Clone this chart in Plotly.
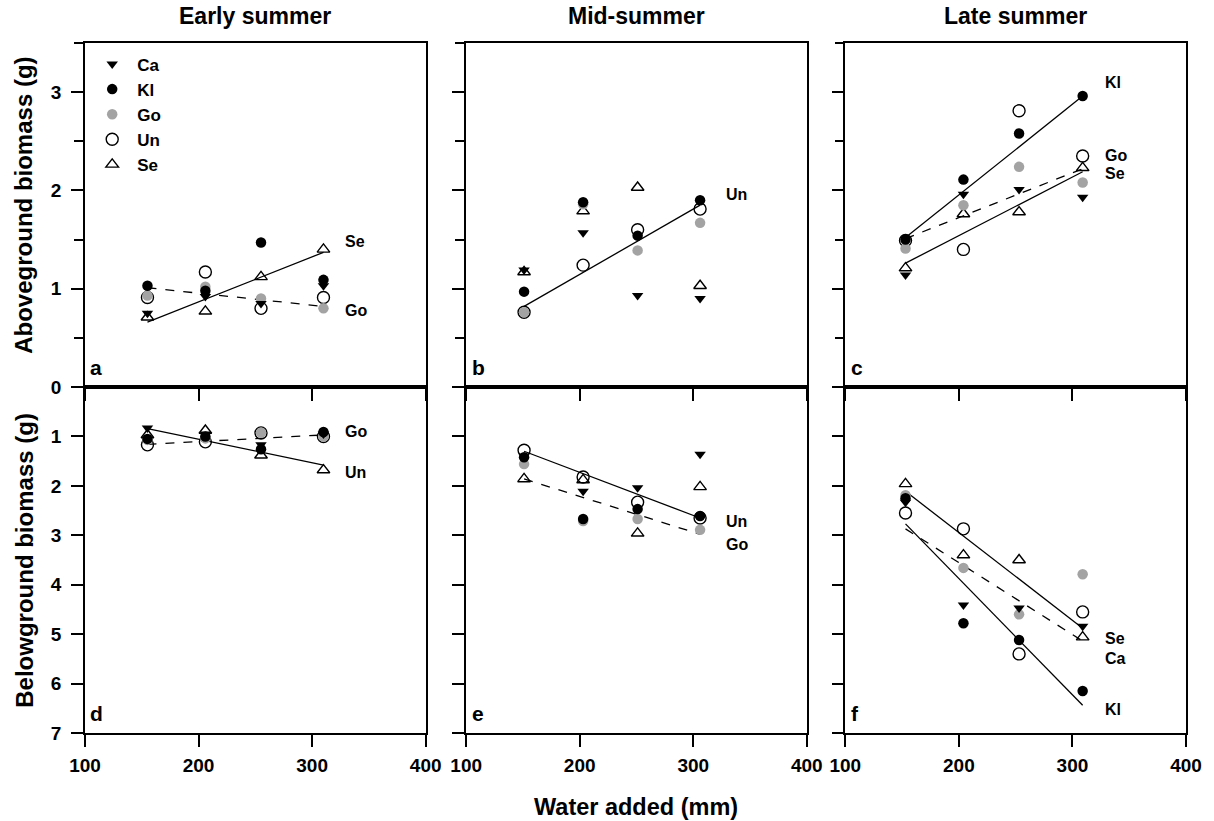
import plotly.graph_objects as go

FONT = "Liberation Sans"

# ---------------- data ----------------
series = ["Ca", "Kl", "Go", "Un", "Se"]
season_titles = ["Early summer", "Mid-summer", "Late summer"]
panel_letters = ["a", "b", "c", "d", "e", "f"]

# water added (mm) for each season
x_early = [155, 206, 255, 310]
x_mid = [151, 203, 251, 306]
x_late = [153, 204, 253, 309]

# aboveground biomass (g)
above_early = {"Ca": [0.75, 0.92, 0.85, 1.03], "Kl": [1.03, 0.98, 1.47, 1.09],
               "Go": [0.93, 1.02, 0.90, 0.80], "Un": [0.91, 1.17, 0.80, 0.91],
               "Se": [0.71, 0.77, 1.12, 1.40]}
above_mid = {"Ca": [1.19, 1.57, 0.93, 0.90], "Kl": [0.97, 1.88, 1.54, 1.90],
             "Go": [0.76, 1.86, 1.39, 1.67], "Un": [0.76, 1.24, 1.60, 1.81],
             "Se": [1.17, 1.79, 2.03, 1.03]}
above_late = {"Ca": [1.14, 1.96, 2.01, 1.93], "Kl": [1.50, 2.11, 2.58, 2.96],
              "Go": [1.41, 1.85, 2.24, 2.08], "Un": [1.49, 1.40, 2.81, 2.35],
              "Se": [1.21, 1.76, 1.78, 2.23]}

# belowground biomass (g)
below_early = {"Ca": [0.83, 0.95, 1.17, 0.95], "Kl": [1.05, 1.00, 1.26, 0.91],
               "Go": [1.07, 1.04, 0.92, 1.00], "Un": [1.17, 1.11, 0.93, 1.00],
               "Se": [0.97, 0.88, 1.38, 1.68]}
below_mid = {"Ca": [1.40, 2.11, 2.04, 1.36], "Kl": [1.42, 2.67, 2.47, 2.61],
             "Go": [1.56, 2.71, 2.67, 2.89], "Un": [1.28, 1.82, 2.33, 2.65],
             "Se": [1.86, 1.88, 2.96, 2.02]}
below_late = {"Ca": [2.33, 4.41, 4.47, 4.84], "Kl": [2.25, 4.78, 5.12, 6.15],
              "Go": [2.19, 3.66, 4.60, 3.79], "Un": [2.55, 2.87, 5.40, 4.55],
              "Se": [1.96, 3.40, 3.50, 5.06]}

# regression lines: (label, fitted value at first x, fitted value at last x)
fits_a = [("Se", 0.66, 1.37), ("Go", 1.01, 0.82)]
fits_b = [("Un", 0.82, 1.85)]
fits_c = [("Kl", 1.52, 2.96), ("Go", 1.51, 2.22), ("Se", 1.26, 2.19)]
fits_d = [("Un", 0.84, 1.58), ("Go", 1.16, 0.97)]
fits_e = [("Un", 1.30, 2.65), ("Go", 1.86, 2.98)]
fits_f = [("Se", 2.11, 4.88), ("Kl", 2.77, 6.44), ("Ca", 2.87, 5.14)]

x_ticks = [100, 200, 300, 400]
above_ticks = [0, 1, 2, 3]
below_ticks = [1, 2, 3, 4, 5, 6, 7]

# ---------------- styles / layout helpers ----------------
GRAY = "#a3a3a3"
styles = {
    "Ca": dict(symbol="triangle-down", color="black", size=10, line=dict(width=0)),
    "Kl": dict(symbol="circle", color="black", size=10.5, line=dict(width=0)),
    "Go": dict(symbol="circle", color=GRAY, size=10.5, line=dict(width=0)),
    "Un": dict(symbol="circle-open", color="black", size=12, line=dict(width=1.4)),
    "Se": dict(symbol="triangle-up-open", color="black", size=11, line=dict(width=1.4)),
}
dash_for = {"Go": "dash", "Ca": "dash"}
draw_order = ["Se", "Un", "Go", "Kl", "Ca"]
legend_rank = {s: i + 1 for i, s in enumerate(series)}

panels = [
    (x_early, above_early, fits_a),
    (x_mid, above_mid, fits_b),
    (x_late, above_late, fits_c),
    (x_early, below_early, fits_d),
    (x_mid, below_mid, fits_e),
    (x_late, below_late, fits_f),
]

# label y positions (data units) for the regression labels, keyed by line name
label_y = [
    {"Se": 1.48, "Go": 0.78},
    {"Un": 1.96},
    {"Kl": 3.10, "Go": 2.36, "Se": 2.17},
    {"Go": 0.91, "Un": 1.72},
    {"Un": 2.73, "Go": 3.18},
    {"Se": 5.08, "Ca": 5.49, "Kl": 6.52},
]

# figure geometry (px)
W, H = 1214, 821
ML, MR, MT, MB = 85, 14, 43, 88
PW = W - ML - MR
PH = H - MT - MB
col_px = [(85, 430), (471, 816), (855, 1200)]
row_split = (733 - 387) / PH
x_domains = [[(a - ML) / PW, (b - ML) / PW] for a, b in col_px]
y_domains = [[row_split, 1.0], [0.0, row_split]]

fig = go.Figure()

for p, (xs, vals, fits) in enumerate(panels):
    ax = "" if p == 0 else str(p + 1)
    xr, yr = "x" + ax, "y" + ax
    for (name, y0, y1) in fits:
        fig.add_trace(go.Scatter(
            x=[xs[0], xs[-1]], y=[y0, y1], mode="lines",
            line=dict(color="black", width=1.3, dash=dash_for.get(name, "solid")),
            xaxis=xr, yaxis=yr, showlegend=False, hoverinfo="skip"))
    for s in draw_order:
        st = styles[s]
        fig.add_trace(go.Scatter(
            x=xs, y=vals[s], mode="markers", name=s,
            marker=dict(symbol=st["symbol"], color=st["color"], size=st["size"],
                        line=st["line"]),
            xaxis=xr, yaxis=yr, showlegend=(p == 0),
            legendgroup=s, legendrank=legend_rank[s]))

TICKFONT = dict(family=FONT, size=19, color="black", weight="bold")
axis_common = dict(showline=True, linecolor="black", linewidth=1.5, mirror=True,
                   ticks="outside", ticklen=12, tickwidth=1.5, tickcolor="black",
                   showgrid=False, zeroline=False, tickfont=TICKFONT)

layout = dict(
    width=W, height=H,
    margin=dict(l=ML, r=MR, t=MT, b=MB),
    plot_bgcolor="white", paper_bgcolor="white",
    font=dict(family=FONT, color="black"),
    showlegend=True,
    legend=dict(x=0.002, y=0.995, xanchor="left", yanchor="top",
                bgcolor="rgba(0,0,0,0)", traceorder="grouped", tracegroupgap=0,
                itemwidth=40,
                font=dict(family=FONT, size=17, color="black", weight="bold")),
)

for p in range(6):
    ax = "" if p == 0 else str(p + 1)
    row, col = divmod(p, 3)
    xa = dict(axis_common, domain=x_domains[col], range=[100, 400],
              tickvals=x_ticks, showticklabels=(row == 1),
              anchor="y" + ax, ticklabelstandoff=2)
    if row == 0:
        ya = dict(axis_common, domain=y_domains[row], range=[0, 3.5],
                  tickvals=above_ticks,
                  minor=dict(tick0=0, dtick=0.5, ticks="outside", ticklen=9,
                             tickwidth=1.5, tickcolor="black", showgrid=False))
    else:
        ya = dict(axis_common, domain=y_domains[row], range=[7, 0],
                  tickvals=below_ticks)
    ya.update(anchor="x" + ax, showticklabels=(col == 0), ticklabelstandoff=6)
    layout["xaxis" + ax] = xa
    layout["yaxis" + ax] = ya

annotations = []
for c, t in enumerate(season_titles):
    annotations.append(dict(text=t, xref="paper", yref="paper",
                            x=sum(x_domains[c]) / 2, y=(733 - 16) / PH,
                            xanchor="center", yanchor="middle", showarrow=False,
                            font=dict(family=FONT, size=23, color="black", weight="bold")))
for p, letter in enumerate(panel_letters):
    ax = "" if p == 0 else str(p + 1)
    row = p // 3
    annotations.append(dict(text=letter, xref="x" + ax, yref="y" + ax,
                            x=103, y=0.2 if row == 0 else 6.6,
                            xanchor="left", yanchor="middle", showarrow=False,
                            font=dict(family=FONT, size=21, color="black", weight="bold")))
for p, (xs, vals, fits) in enumerate(panels):
    ax = "" if p == 0 else str(p + 1)
    for (name, y0, y1) in fits:
        annotations.append(dict(text=name, xref="x" + ax, yref="y" + ax,
                                x=327, y=label_y[p][name], xanchor="left", yanchor="middle",
                                showarrow=False,
                                font=dict(family=FONT, size=16, color="black", weight="bold")))
annotations.append(dict(text="Aboveground biomass (g)", xref="paper", yref="paper",
                        x=(23 - ML) / PW, y=(733 - 205) / PH, textangle=-90,
                        xanchor="center", yanchor="middle", showarrow=False,
                        font=dict(family=FONT, size=24, color="black", weight="bold")))
annotations.append(dict(text="Belowground biomass (g)", xref="paper", yref="paper",
                        x=(23 - ML) / PW, y=(733 - 560) / PH, textangle=-90,
                        xanchor="center", yanchor="middle", showarrow=False,
                        font=dict(family=FONT, size=24, color="black", weight="bold")))
annotations.append(dict(text="Water added (mm)", xref="paper", yref="paper",
                        x=(643 - ML) / PW, y=(733 - 807) / PH,
                        xanchor="center", yanchor="middle", showarrow=False,
                        font=dict(family=FONT, size=23.5, color="black", weight="bold")))
layout["annotations"] = annotations

fig.update_layout(**layout)
fig.write_html("out.html", config={"displayModeBar": False},
               post_script="document.body.style.margin='0';")
